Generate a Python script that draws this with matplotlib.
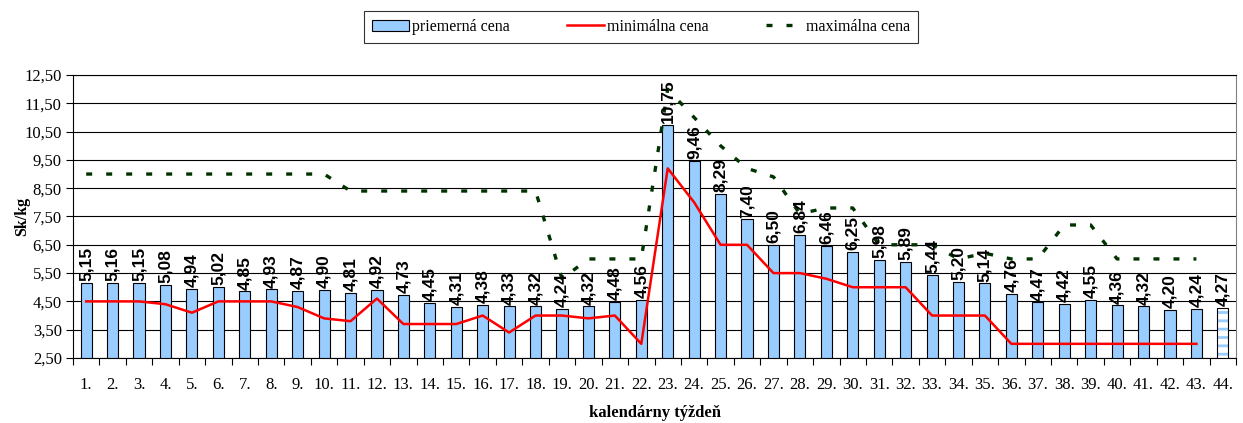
import numpy as np
import matplotlib
matplotlib.use('Agg')
import matplotlib.pyplot as plt
from matplotlib.patches import Patch
from matplotlib.lines import Line2D
from matplotlib.ticker import FuncFormatter, FixedLocator

# weekly prices, Sk/kg
weeks = [f'{i}.' for i in range(1, 45)]
avg_price = [5.15, 5.16, 5.15, 5.08, 4.94, 5.02, 4.85, 4.93, 4.87, 4.90,
             4.81, 4.92, 4.73, 4.45, 4.31, 4.38, 4.33, 4.32, 4.24, 4.32,
             4.48, 4.56, 10.75, 9.46, 8.29, 7.40, 6.50, 6.84, 6.46, 6.25,
             5.98, 5.89, 5.44, 5.20, 5.14, 4.76, 4.47, 4.42, 4.55, 4.36,
             4.32, 4.20, 4.24, 4.27]
min_price = [4.5, 4.5, 4.5, 4.4, 4.1, 4.5, 4.5, 4.5, 4.3, 3.9,
             3.8, 4.6, 3.7, 3.7, 3.7, 4.0, 3.4, 4.0, 4.0, 3.9,
             4.0, 3.0, 9.2, 8.0, 6.5, 6.5, 5.5, 5.5, 5.3, 5.0,
             5.0, 5.0, 4.0, 4.0, 4.0, 3.0, 3.0, 3.0, 3.0, 3.0,
             3.0, 3.0, 3.0, np.nan]
max_price = [9.0, 9.0, 9.0, 9.0, 9.0, 9.0, 9.0, 9.0, 9.0, 9.0,
             8.4, 8.4, 8.4, 8.4, 8.4, 8.4, 8.4, 8.4, 5.3, 6.0,
             6.0, 6.0, 12.0, 11.0, 10.0, 9.2, 8.9, 7.6, 7.8, 7.8,
             6.5, 6.5, 6.5, 6.0, 6.2, 6.0, 6.0, 7.2, 7.2, 6.0,
             6.0, 6.0, 6.0, np.nan]

BAR_COLOR = '#99CCFF'
SERIF = 'Liberation Serif'
SANS = 'Liberation Sans'


def comma(v, pos=None):
    return f'{v:.2f}'.replace('.', ',')


def main():
    plt.rcParams['font.family'] = SERIF
    plt.rcParams['hatch.linewidth'] = 2.0

    fig = plt.figure(figsize=(12.43, 4.23), dpi=100)
    ax = fig.add_axes([0.0587, 0.1537, 0.9357, 0.669])

    x = np.arange(len(weeks))
    w = 0.42

    ax.bar(x[:-1], avg_price[:-1], width=w, color=BAR_COLOR,
           edgecolor='black', linewidth=0.8, zorder=2)
    # last week is only preliminary -> striped bar
    ax.bar(x[-1], avg_price[-1], width=w, color='white', edgecolor=BAR_COLOR,
           hatch='--', linewidth=0, zorder=2)
    ax.bar(x[-1], avg_price[-1], width=w, fill=False, edgecolor='black',
           linewidth=0.8, zorder=2)

    ax.plot(x, min_price, color='red', linewidth=1.8, zorder=3)
    ax.plot(x, max_price, color='#003300', linewidth=2.4,
            linestyle=(0, (1.8, 4.2)), zorder=3)

    for xi, v in zip(x, avg_price):
        ax.text(xi, v + 0.06, comma(v), rotation=90, ha='center', va='bottom',
                fontsize=12.5, fontweight='bold', family=SANS, zorder=4)

    ax.set_xlim(-0.5, len(weeks) - 0.5)
    ax.set_ylim(2.5, 12.5)
    ax.set_yticks(np.arange(2.5, 12.6, 1.0))
    ax.yaxis.set_major_formatter(FuncFormatter(comma))
    ax.set_xticks(x)
    ax.set_xticklabels(weeks)
    ax.xaxis.set_minor_locator(FixedLocator(np.arange(-0.5, len(weeks), 1.0)))
    ax.tick_params(axis='x', which='major', length=0, pad=14, labelsize=12)
    ax.tick_params(axis='x', which='minor', length=5, width=0.8, direction='out')
    ax.tick_params(axis='y', length=5, width=0.8, labelsize=12, pad=3)

    ax.yaxis.grid(True, color='black', linewidth=0.8)
    ax.set_axisbelow(True)
    for s in ax.spines.values():
        s.set_linewidth(0.8)
    ax.spines['right'].set_color('#808080')

    ax.set_ylabel('Sk/kg', fontsize=11.5, fontweight='bold')
    ax.yaxis.set_label_coords(-0.037, 0.5)
    ax.set_xlabel('kalendárny týždeň', fontsize=12, fontweight='bold', labelpad=8)

    handles = [
        Patch(facecolor=BAR_COLOR, edgecolor='black', linewidth=0.8),
        Line2D([], [], color='red', linewidth=1.8),
        Line2D([], [], color='#003300', linewidth=2.4, linestyle=(0, (1.8, 4.2))),
    ]
    leg = fig.legend(handles, ['priemerná cena', 'minimálna cena', 'maximálna cena'],
                     loc='center', bbox_to_anchor=(641 / 1243, 1 - 27 / 423),
                     ncol=3, fontsize=11.5, frameon=True, fancybox=False,
                     handlelength=2.3, handletextpad=0.2, columnspacing=3.6,
                     borderpad=0.5)
    leg.get_frame().set_edgecolor('black')
    leg.get_frame().set_linewidth(0.8)

    fig.savefig('out.png', dpi=100)
    plt.close(fig)


if __name__ == '__main__':
    main()
